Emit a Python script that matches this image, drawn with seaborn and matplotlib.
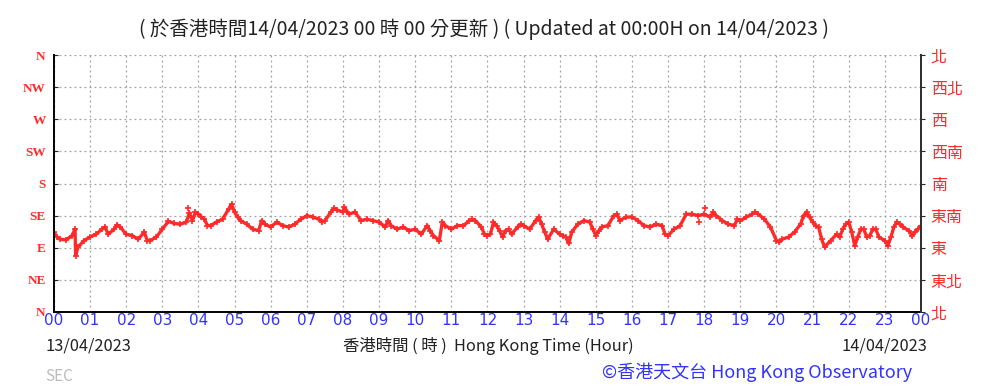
import numpy as np
import pandas as pd
import matplotlib
matplotlib.use("Agg")
import matplotlib.pyplot as plt
import seaborn as sns

# wind direction (degrees), HKT 13/04/2023 00:00 -> 14/04/2023 00:00
times = ["00:00", "00:05", "00:10", "00:20", "00:30", "00:35", "00:36", "00:40", "00:50",
         "01:00", "01:10", "01:20", "01:25", "01:30", "01:40", "01:45", "01:50",
         "02:00", "02:10", "02:20", "02:30", "02:35", "02:40", "02:50",
         "03:00", "03:10", "03:20", "03:30", "03:40", "03:45", "03:50", "03:55",
         "04:00", "04:05", "04:10", "04:15", "04:20", "04:30", "04:40", "04:50", "04:55",
         "05:00", "05:05", "05:10", "05:20", "05:30", "05:40", "05:45", "05:50",
         "06:00", "06:10", "06:20", "06:30", "06:40", "06:50",
         "07:00", "07:10", "07:20", "07:25", "07:30", "07:40", "07:45", "07:50",
         "08:00", "08:02", "08:10", "08:20", "08:30", "08:40", "08:50",
         "09:00", "09:10", "09:15", "09:20", "09:30", "09:40", "09:50",
         "10:00", "10:10", "10:20", "10:25", "10:30", "10:40", "10:45", "10:50",
         "11:00", "11:10", "11:20", "11:30", "11:35", "11:40", "11:50", "11:55",
         "12:00", "12:05", "12:10", "12:15", "12:20", "12:25", "12:30", "12:35", "12:40", "12:50", "12:55",
         "13:00", "13:10", "13:20", "13:25", "13:30", "13:35", "13:40", "13:50",
         "14:00", "14:05", "14:10", "14:15", "14:20", "14:30", "14:40", "14:50", "14:55",
         "15:00", "15:05", "15:10", "15:20", "15:30", "15:35", "15:40", "15:50",
         "16:00", "16:10", "16:20", "16:30", "16:40", "16:50", "16:55",
         "17:00", "17:10", "17:20", "17:30", "17:40", "17:50",
         "18:00", "18:10", "18:15", "18:20", "18:30", "18:40", "18:50", "18:55",
         "19:00", "19:10", "19:20", "19:25", "19:30", "19:40", "19:50",
         "20:00", "20:05", "20:10", "20:20", "20:30", "20:40", "20:45", "20:50", "20:55",
         "21:00", "21:05", "21:10", "21:15", "21:20", "21:30", "21:40", "21:45", "21:50", "21:55",
         "22:00", "22:05", "22:10", "22:15", "22:20", "22:25", "22:30", "22:35", "22:40", "22:45", "22:50",
         "23:00", "23:05", "23:10", "23:15", "23:20", "23:25", "23:30", "23:40", "23:45", "23:50", "23:55",
         "24:00"]
wind_dir = [112, 105, 102, 101, 107, 116, 79, 91, 100,
            105, 109, 116, 119, 109, 116, 122, 119,
            109, 107, 102, 112, 100, 100, 105,
            116, 127, 124, 123, 126, 139, 128, 140,
            137, 133, 130, 121, 121, 126, 130, 144, 151,
            140, 133, 128, 123, 116, 114, 128, 123,
            119, 126, 121, 119, 123, 130,
            135, 133, 130, 126, 128, 140, 145, 143,
            140, 147, 137, 140, 128, 130, 128,
            126, 119, 128, 121, 116, 119, 114,
            116, 109, 121, 114, 107, 100, 126, 121,
            116, 121, 121, 128, 130, 128, 119, 109,
            107, 109, 126, 121, 114, 105, 114, 116, 109, 119, 123,
            121, 116, 128, 133, 123, 112, 102, 116,
            109, 107, 105, 96, 112, 123, 128, 126, 116,
            107, 114, 119, 121, 135, 137, 128, 133,
            133, 128, 121, 119, 123, 121, 109,
            107, 116, 121, 137, 137, 135,
            137, 133, 140, 135, 128, 123, 121, 130,
            128, 133, 137, 140, 137, 130, 119,
            100, 98, 102, 105, 112, 123, 135, 140, 133,
            126, 121, 119, 102, 91, 100, 109, 105, 116, 123,
            126, 112, 93, 105, 116, 116, 105, 107, 116, 116, 105,
            100, 93, 105, 119, 126, 123, 119, 114, 107, 112, 116,
            121]

# isolated readings away from the trace
stray_times = ["03:42", "17:51", "18:02"]
stray_dir = [146, 126, 145]

dir_labels_en = ["N", "NE", "E", "SE", "S", "SW", "W", "NW", "N"]
dir_labels_zh = ["北", "東北", "東", "東南", "南", "西南", "西", "西北", "北"]
hour_labels = ["00", "01", "02", "03", "04", "05", "06", "07", "08", "09", "10", "11",
               "12", "13", "14", "15", "16", "17", "18", "19", "20", "21", "22", "23", "00"]


def to_hours(ts):
    return [int(t[:2]) + int(t[3:]) / 60 for t in ts]


df = pd.DataFrame({"hour": to_hours(times), "dir": wind_dir})
stray = pd.DataFrame({"hour": to_hours(stray_times), "dir": stray_dir})

sns.set_style("white")
plt.rcParams['font.family'] = ['Noto Sans CJK TC', 'DejaVu Sans']

red = "#ff2a2a"
blue = "#3333ff"

fig = plt.figure(figsize=(9.83, 3.88), dpi=100)
ax = fig.add_axes([0.0549, 0.196, 0.882, 0.662])

sns.lineplot(data=df, x="hour", y="dir", ax=ax, color=red, lw=2.4,
             marker="+", markersize=5, markeredgewidth=1.2, markeredgecolor=red)
sns.scatterplot(data=stray, x="hour", y="dir", ax=ax, color=red, marker="+",
                s=18, linewidth=1.2)

ax.set_xlim(0, 24)
ax.set_ylim(0, 360)
ax.set_xticks(range(25))
ax.set_xticks(np.arange(0.5, 24, 1), minor=True)
ax.set_xticklabels(hour_labels, color=blue, fontsize=11, family=['DejaVu Sans'])
ax.set_yticks(range(0, 361, 45))
ax.set_yticklabels(dir_labels_en, color=red, fontsize=9.5, fontweight="bold",
                   family=['Liberation Serif'])
ax.tick_params(axis="x", which="both", direction="in", length=3, pad=1)
ax.tick_params(axis="y", direction="in", length=3, pad=6)
ax.grid(True, color="#a0a0a0", linestyle=(0, (1.5, 2.5)), lw=0.9)
ax.set_xlabel("")
ax.set_ylabel("")

for side in ["left", "bottom", "right"]:
    ax.spines[side].set_color("black")
    ax.spines[side].set_linewidth(1.4)
ax.spines["top"].set_visible(False)

ax2 = ax.twinx()
ax2.set_ylim(0, 360)
ax2.set_yticks(range(0, 361, 45))
ax2.set_yticklabels(dir_labels_zh, color=red, fontsize=11.5)
ax2.tick_params(axis="y", direction="out", length=3, pad=4)
for side in ["top", "left", "bottom"]:
    ax2.spines[side].set_visible(False)
ax2.spines["right"].set_color("#333333")
ax2.spines["right"].set_linewidth(1.4)

fig.text(0.492, 0.925, "( 於香港時間14/04/2023 00 時 00 分更新 ) ( Updated at 00:00H on 14/04/2023 )",
         ha="center", va="center", fontsize=14, color="#222222")
fig.text(0.046, 0.108, "13/04/2023", ha="left", va="center", fontsize=11.8, color="#222222")
fig.text(0.497, 0.108, "香港時間 ( 時 )  Hong Kong Time (Hour)", ha="center", va="center",
         fontsize=11.8, color="#222222")
fig.text(0.943, 0.108, "14/04/2023", ha="right", va="center", fontsize=11.8, color="#222222")
fig.text(0.046, 0.03, "SEC", ha="left", va="center", fontsize=11, color="#bbbbbb")
fig.text(0.928, 0.04, "©香港天文台 Hong Kong Observatory", ha="right", va="center",
         fontsize=13, color=blue)

fig.savefig("out.png", dpi=100)
